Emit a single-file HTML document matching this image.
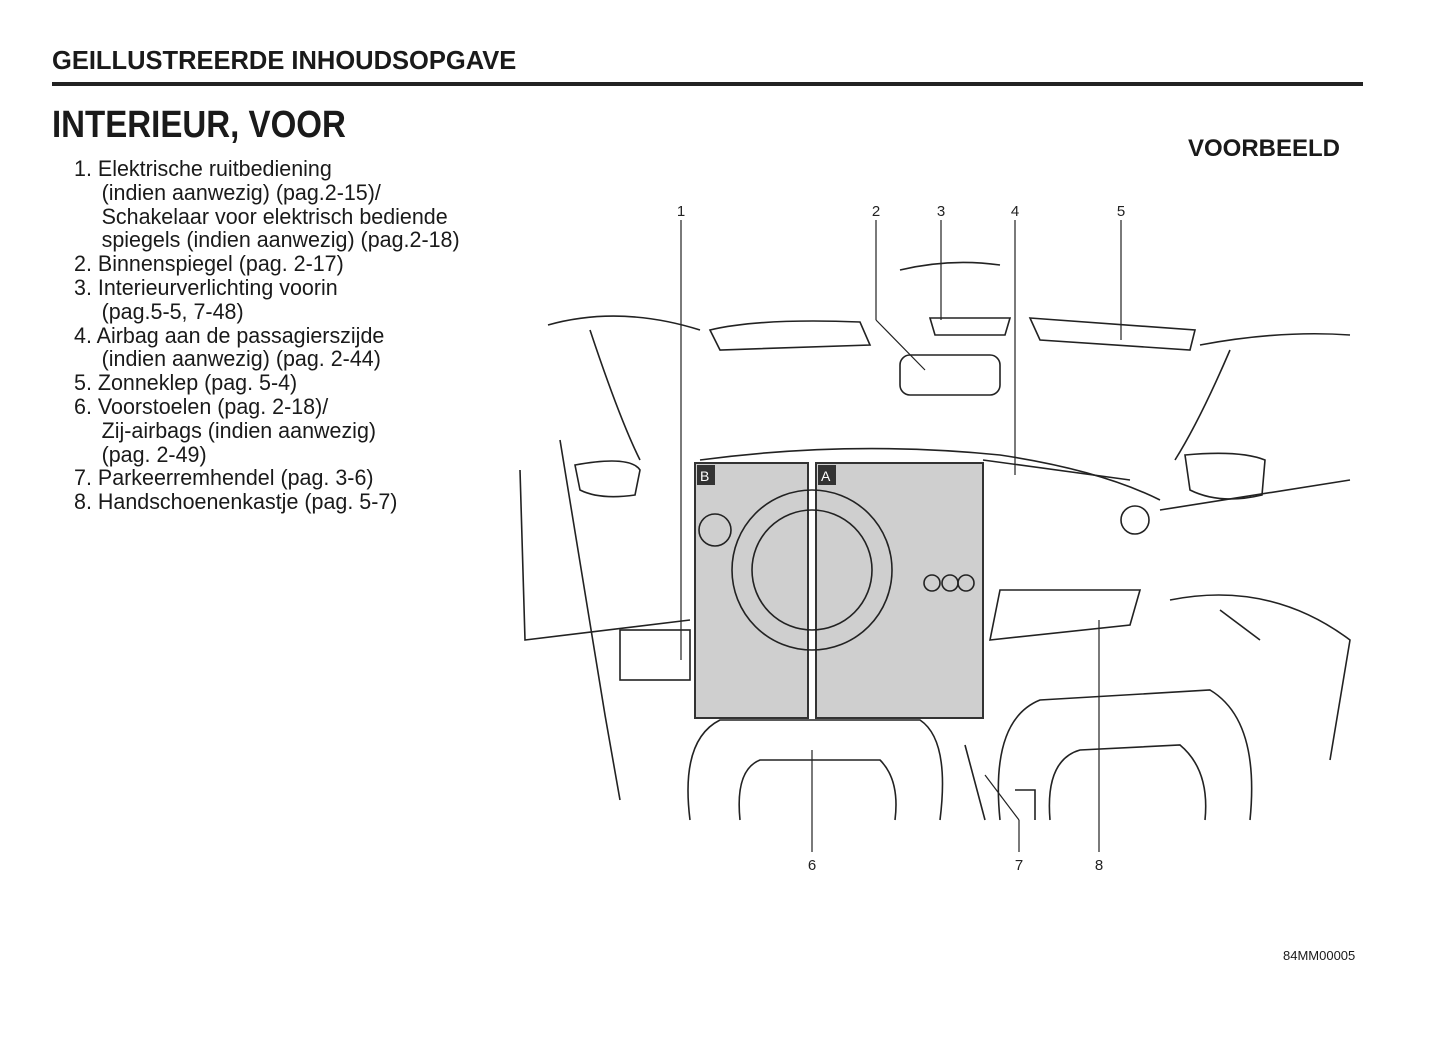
<!DOCTYPE html>
<html><head><meta charset="utf-8"><style>
html,body{margin:0;padding:0;background:#fff;}
body{width:1445px;height:1048px;position:relative;overflow:hidden;font-family:"Liberation Sans",Arial,sans-serif;color:#1a1a1a;}
.h{position:absolute;left:52px;top:47px;font-size:25.5px;font-weight:bold;}
.rule{position:absolute;left:52px;top:82px;width:1311px;height:4px;background:#222;}
.t{position:absolute;left:52px;top:104px;font-size:38px;font-weight:bold;transform:scaleX(0.87);transform-origin:left;}
.list{position:absolute;left:74px;top:157px;font-size:21.8px;line-height:23.8px;transform:scaleX(0.985);transform-origin:left;}
.list div{white-space:nowrap;}
.ind{padding-left:28px;}
.vb{position:absolute;left:1188px;top:135px;font-size:24px;font-weight:bold;}
.code{position:absolute;left:1283px;top:948px;font-size:13px;}
svg{position:absolute;left:0;top:0;}
</style></head><body>
<div class="h">GEILLUSTREERDE INHOUDSOPGAVE</div>
<div class="rule"></div>
<div class="t">INTERIEUR, VOOR</div>
<div class="list">
<div>1. Elektrische ruitbediening</div>
<div class="ind">(indien aanwezig) (pag.2-15)/</div>
<div class="ind">Schakelaar voor elektrisch bediende</div>
<div class="ind">spiegels (indien aanwezig) (pag.2-18)</div>
<div>2. Binnenspiegel (pag. 2-17)</div>
<div>3. Interieurverlichting voorin</div>
<div class="ind">(pag.5-5, 7-48)</div>
<div>4. Airbag aan de passagierszijde</div>
<div class="ind">(indien aanwezig) (pag. 2-44)</div>
<div>5. Zonneklep (pag. 5-4)</div>
<div>6. Voorstoelen (pag. 2-18)/</div>
<div class="ind">Zij-airbags (indien aanwezig)</div>
<div class="ind">(pag. 2-49)</div>
<div>7. Parkeerremhendel (pag. 3-6)</div>
<div>8. Handschoenenkastje (pag. 5-7)</div>
</div>
<div class="vb">VOORBEELD</div>
<div class="code">84MM00005</div>
<svg width="1445" height="1048" viewBox="0 0 1445 1048" fill="none" stroke="#222" stroke-width="1.6" font-family="Liberation Sans, sans-serif">
<rect x="695" y="463" width="113" height="255" fill="#cfcfcf" stroke="#333" stroke-width="2"/>
<rect x="816" y="463" width="167" height="255" fill="#cfcfcf" stroke="#333" stroke-width="2"/>
<rect x="697" y="465" width="18" height="20" fill="#333" stroke="none"/>
<rect x="818" y="465" width="18" height="20" fill="#333" stroke="none"/>
<text x="700" y="481" font-size="14" fill="#fff" stroke="none">B</text>
<text x="821" y="481" font-size="14" fill="#fff" stroke="none">A</text>
<path d="M548 325 Q620 305 700 330"/>
<path d="M710 330 Q760 318 860 322 L870 345 L720 350 Z"/>
<path d="M1030 318 L1195 330 L1190 350 L1040 340 Z"/>
<path d="M930 318 L1010 318 L1005 335 L935 335 Z"/>
<rect x="900" y="355" width="100" height="40" rx="10"/>
<path d="M900 270 Q950 258 1000 265"/>
<path d="M1200 345 Q1280 330 1350 335"/>
<path d="M590 330 Q620 420 640 460"/>
<path d="M1230 350 Q1200 420 1175 460"/>
<path d="M700 460 Q850 440 1000 455 Q1100 470 1160 500"/>
<path d="M983 460 L1130 480"/>
<path d="M1000 590 L1140 590 L1130 625 L990 640 Z"/>
<circle cx="1135" cy="520" r="14"/>
<circle cx="812" cy="570" r="80"/>
<circle cx="812" cy="570" r="60"/>
<circle cx="932" cy="583" r="8"/><circle cx="950" cy="583" r="8"/><circle cx="966" cy="583" r="8"/>
<circle cx="715" cy="530" r="16"/>
<path d="M575 465 Q630 455 640 470 L635 495 Q600 500 580 490 Z"/>
<path d="M1185 455 Q1240 450 1265 460 L1262 495 Q1220 505 1190 490 Z"/>
<path d="M520 470 L525 640 L690 620"/>
<path d="M560 440 L605 715 L620 800"/>
<path d="M1160 510 L1350 480"/>
<path d="M1170 600 Q1270 580 1350 640 L1330 760"/>
<rect x="620" y="630" width="70" height="50"/>
<path d="M1220 610 L1260 640"/>
<path d="M690 820 Q680 740 720 720 L920 720 Q950 740 940 820"/>
<path d="M740 820 Q735 770 760 760 L880 760 Q900 780 895 820"/>
<path d="M1000 820 Q990 720 1040 700 L1210 690 Q1260 720 1250 820"/>
<path d="M1050 820 Q1045 760 1080 750 L1180 745 Q1210 770 1205 820"/>
<path d="M965 745 L985 820"/><path d="M1015 790 L1035 790 L1035 820"/>
<g stroke-width="1.2">
<line x1="681" y1="220" x2="681" y2="660"/>
<line x1="876" y1="220" x2="876" y2="320"/><line x1="876" y1="320" x2="925" y2="370"/>
<line x1="941" y1="220" x2="941" y2="320"/>
<line x1="1015" y1="220" x2="1015" y2="475"/>
<line x1="1121" y1="220" x2="1121" y2="340"/>
<line x1="812" y1="750" x2="812" y2="852"/>
<line x1="1019" y1="820" x2="1019" y2="852"/><line x1="985" y1="775" x2="1019" y2="820"/>
<line x1="1099" y1="620" x2="1099" y2="852"/>
</g>
<g font-size="15" fill="#222" stroke="none" text-anchor="middle">
<text x="681" y="216">1</text><text x="876" y="216">2</text><text x="941" y="216">3</text>
<text x="1015" y="216">4</text><text x="1121" y="216">5</text>
<text x="812" y="870">6</text><text x="1019" y="870">7</text><text x="1099" y="870">8</text>
</g>
</svg>
</body></html>
